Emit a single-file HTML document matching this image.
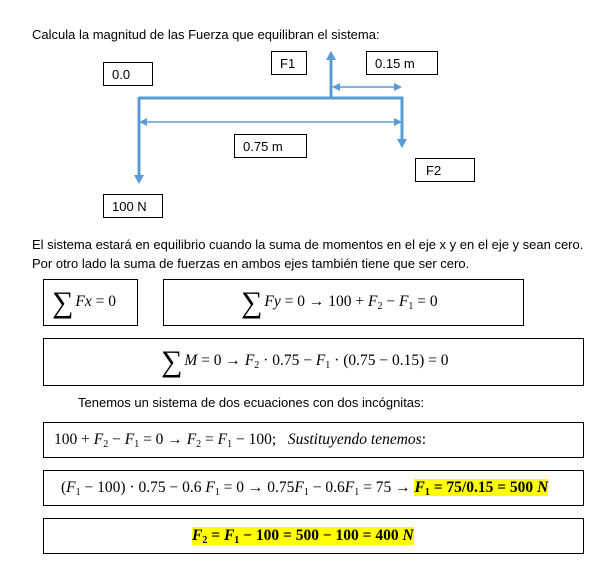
<!DOCTYPE html>
<html><head><meta charset="utf-8"><style>
body{margin:0;width:614px;height:569px;background:#fff;position:relative;font-family:"Liberation Sans",sans-serif;color:#000;overflow:hidden}
.t{position:absolute;font-size:13px;white-space:nowrap}
.b{position:absolute;border:1px solid #000;box-sizing:border-box;font-size:13px}
.b span{position:absolute;left:8px;top:4px}
.m{position:absolute;border:1px solid #000;box-sizing:border-box;font-family:"Liberation Serif",serif;font-size:15.5px;white-space:nowrap}
.m>div{position:absolute;top:0;bottom:0;display:flex;align-items:center}
i{font-style:italic}
.s{font-size:30px;font-weight:normal;line-height:20px;margin-right:2px;display:inline-block;vertical-align:-6px}
.hl{background:#ffff00;font-weight:bold}
sub{font-size:10px;vertical-align:-3px;line-height:0}
</style></head><body>
<div class="t" style="left:32px;top:27px">Calcula la magnitud de las Fuerza que equilibran el sistema:</div>
<div class="b" style="left:103px;top:62px;width:50px;height:24px"><span>0.0</span></div>
<div class="b" style="left:271px;top:51px;width:36px;height:24px"><span>F1</span></div>
<div class="b" style="left:366px;top:51px;width:72px;height:24px"><span>0.15 m</span></div>
<div class="b" style="left:234px;top:134px;width:73px;height:24px"><span>0.75 m</span></div>
<div class="b" style="left:415px;top:158px;width:60px;height:24px"><span style="left:10px">F2</span></div>
<div class="b" style="left:103px;top:194px;width:60px;height:24px"><span>100 N</span></div>
<svg width="614" height="230" style="position:absolute;left:0;top:0" >
<g stroke="#5b9bd5" fill="#5b9bd5">
<line x1="139" y1="98" x2="403" y2="98" stroke-width="3"/>
<line x1="139" y1="97" x2="139" y2="175" stroke-width="3"/>
<polygon points="134,175 144,175 139,184" stroke="none"/>
<line x1="402" y1="97" x2="402" y2="139" stroke-width="3"/>
<polygon points="397,139 407,139 402,148" stroke="none"/>
<line x1="331" y1="98" x2="331" y2="60" stroke-width="3"/>
<polygon points="326,60 336,60 331,51" stroke="none"/>
<line x1="339" y1="87" x2="395" y2="87" stroke-width="1.5"/>
<polygon points="332,87 340,83 340,91" stroke="none"/>
<polygon points="402,87 394,83 394,91" stroke="none"/>
<line x1="146" y1="122" x2="395" y2="122" stroke-width="1.5"/>
<polygon points="139,122 147,118 147,126" stroke="none"/>
<polygon points="402,122 394,118 394,126" stroke="none"/>
</g></svg>
<div class="t" style="left:32px;top:237px">El sistema estará en equilibrio cuando la suma de momentos en el eje x y en el eje y sean cero.</div>
<div class="t" style="left:32px;top:256px">Por otro lado la suma de fuerzas en ambos ejes también tiene que ser cero.</div>
<div class="m" style="left:43px;top:279px;width:95px;height:47px"><div style="left:8px"><span><span class="s">∑</span><i>Fx</i> = 0</span></div></div>
<div class="m" style="left:163px;top:279px;width:361px;height:47px"><div style="left:77px"><span><span class="s">∑</span><i>Fy</i> = 0 → 100 + <i>F</i><sub>2</sub> − <i>F</i><sub>1</sub> = 0</span></div></div>
<div class="m" style="left:43px;top:338px;width:541px;height:48px"><div style="left:117px"><span><span class="s">∑</span><i>M</i> = 0 → <i>F</i><sub>2</sub> · 0.75 − <i>F</i><sub>1</sub> · (0.75 − 0.15) = 0</span></div></div>
<div class="t" style="left:78px;top:395px">Tenemos un sistema de dos ecuaciones con dos incógnitas:</div>
<div class="m" style="left:43px;top:422px;width:541px;height:36px"><div style="left:10px"><span>100 + <i>F</i><sub>2</sub> − <i>F</i><sub>1</sub> = 0 → <i>F</i><sub>2</sub> = <i>F</i><sub>1</sub> − 100; &nbsp;&nbsp;<i>Sustituyendo tenemos</i>:</span></div></div>
<div class="m" style="left:43px;top:470px;width:541px;height:36px"><div style="left:17px"><span>(<i>F</i><sub>1</sub> − 100) · 0.75 − 0.6 <i>F</i><sub>1</sub> = 0 → 0.75<i>F</i><sub>1</sub> − 0.6<i>F</i><sub>1</sub> = 75 → <span class="hl"><i>F</i><sub>1</sub> = 75/0.15 = 500 <i>N</i></span></span></div></div>
<div class="m" style="left:43px;top:518px;width:541px;height:36px"><div style="left:148px"><span class="hl"><i>F</i><sub>2</sub> = <i>F</i><sub>1</sub> − 100 = 500 − 100 = 400 <i>N</i></span></div></div>
</body></html>
